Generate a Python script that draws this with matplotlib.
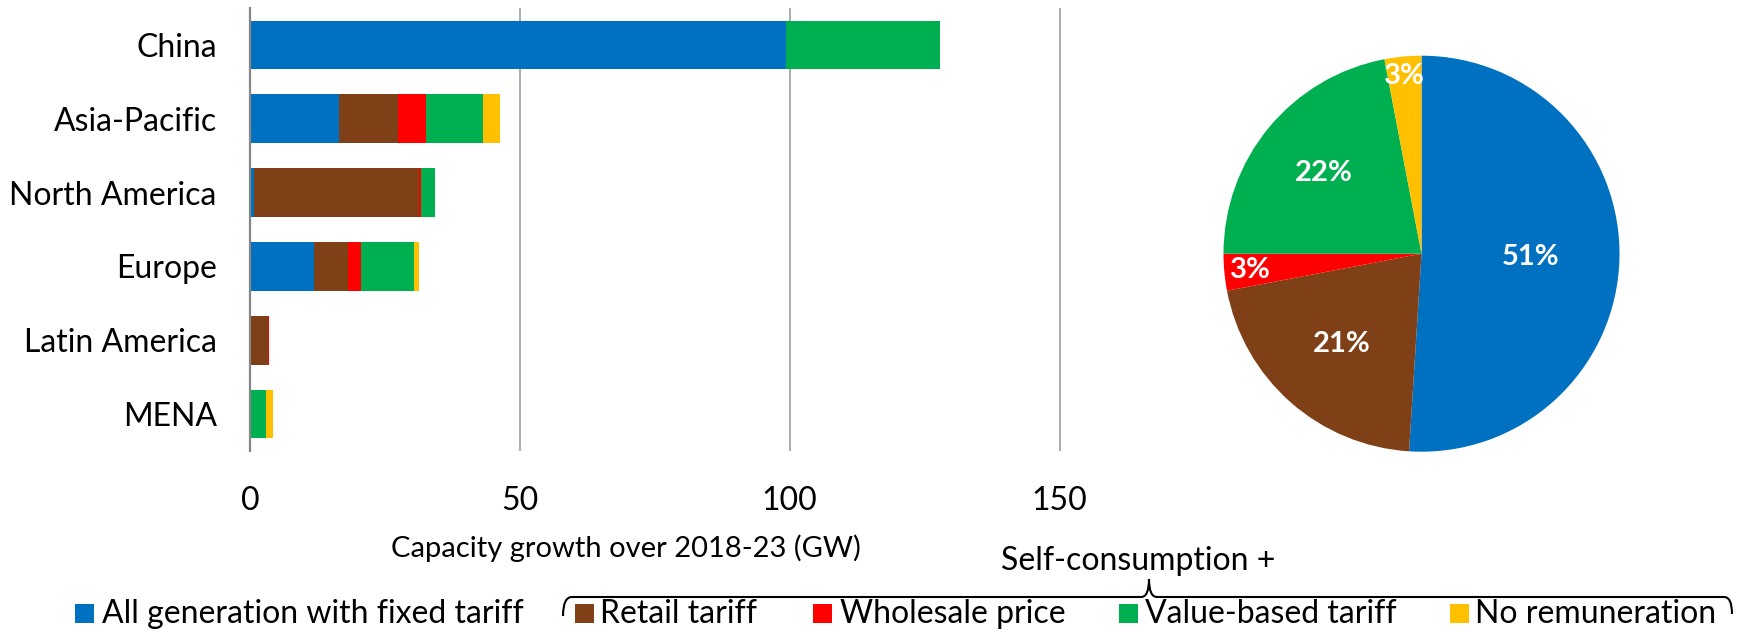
import numpy as np
import matplotlib.pyplot as plt
from matplotlib.patches import Rectangle, PathPatch
from matplotlib.path import Path

plt.rcParams['font.family'] = ['Lato', 'DejaVu Sans']

# capacity growth 2018-23 (GW) by remuneration scheme
regions = ['China', 'Asia-Pacific', 'North America', 'Europe', 'Latin America', 'MENA']
fixed_tariff = [99.3, 16.4, 0.7, 11.8, 0.0, 0.0]
retail_tariff = [0.0, 11.0, 30.6, 6.4, 3.4, 0.0]
wholesale_price = [0.0, 5.3, 0.3, 2.3, 0.1, 0.0]
value_based = [28.5, 10.5, 2.7, 9.9, 0.0, 3.0]
no_remuneration = [0.0, 3.2, 0.0, 0.9, 0.0, 1.3]

series_names = ['All generation with fixed tariff', 'Retail tariff',
                'Wholesale price', 'Value-based tariff', 'No remuneration']
colors = ['#0070C0', '#7F3F17', '#FF0000', '#00B050', '#FFC000']

# global share by scheme (%)
pie_share = [51, 21, 3, 22, 3]

x_ticks = [0, 50, 100, 150]

W, H = 1746, 631
fig = plt.figure(figsize=(W / 100, H / 100), dpi=100)


def px_box(x0, y0, x1, y1):
    return [x0 / W, 1 - y1 / H, (x1 - x0) / W, (y1 - y0) / H]


# stacked bars
ax = fig.add_axes(px_box(250, 8, 1065, 451))
series = [fixed_tariff, retail_tariff, wholesale_price, value_based, no_remuneration]
y = np.arange(len(regions))
left = np.zeros(len(regions))
for vals, c in zip(series, colors):
    ax.barh(y, vals, left=left, height=0.66, color=c, linewidth=0, zorder=3)
    left += np.array(vals)

ax.set_ylim(len(regions) - 0.5, -0.5)
ax.set_xlim(0, 151)
ax.set_xticks(x_ticks)
ax.set_yticks(y)
ax.set_yticklabels(regions)
ax.tick_params(length=0, labelsize=23, colors='black')
ax.tick_params(axis='x', pad=25)
ax.tick_params(axis='y', pad=24)
for s in ['top', 'right', 'bottom']:
    ax.spines[s].set_visible(False)
ax.spines['left'].set_color('#868686')
ax.spines['left'].set_linewidth(1.6)
ax.spines['left'].set_zorder(4)
ax.grid(axis='x', color='#A6A6A6', linewidth=1.3, zorder=1)
ax.set_axisbelow(True)

fig.text(626 / W, 1 - 548 / H, 'Capacity growth over 2018-23 (GW)',
         ha='center', va='center', fontsize=21)

# pie of shares
ax2 = fig.add_axes(px_box(1223.5, 55.7, 1619.5, 451.7))
wedges, _ = ax2.pie(pie_share, colors=colors, startangle=90, counterclock=False,
                    wedgeprops=dict(linewidth=0))
ax2.set_xlim(-1, 1)
ax2.set_ylim(-1, 1)
label_r = [0.55, 0.61, 0.87, 0.64, 0.9]
for w, share, r in zip(wedges, pie_share, label_r):
    ang = np.deg2rad((w.theta1 + w.theta2) / 2)
    ax2.text(r * np.cos(ang), r * np.sin(ang), f'{share}%', ha='center', va='center',
             color='white', fontsize=21, fontweight='bold')

# legend with bracket grouping the self-consumption schemes
lax = fig.add_axes([0, 0, 1, 1])
lax.set_xlim(0, W)
lax.set_ylim(H, 0)
lax.axis('off')

legend_pos = [(75, 102), (575, 600), (813, 840), (1119, 1145), (1450, 1475)]
for (sx, tx), name, c in zip(legend_pos, series_names, colors):
    lax.add_patch(Rectangle((sx, 604), 19, 19, color=c, linewidth=0))
    lax.text(tx, 623, name, ha='left', va='baseline', fontsize=23)

verts = [(563, 616), (563, 597), (572, 597),
         (1141, 597),
         (1149, 597), (1149, 579),
         (1149, 597), (1157, 597),
         (1724, 597),
         (1732, 597), (1732, 614)]
codes = [Path.MOVETO, Path.CURVE3, Path.CURVE3,
         Path.LINETO,
         Path.CURVE3, Path.CURVE3,
         Path.CURVE3, Path.CURVE3,
         Path.LINETO,
         Path.CURVE3, Path.CURVE3]
lax.add_patch(PathPatch(Path(verts, codes), fill=False, edgecolor='black', linewidth=1.5))
lax.text(1138, 570, 'Self-consumption +', ha='center', va='baseline', fontsize=23)

fig.savefig('out.png', dpi=100)
